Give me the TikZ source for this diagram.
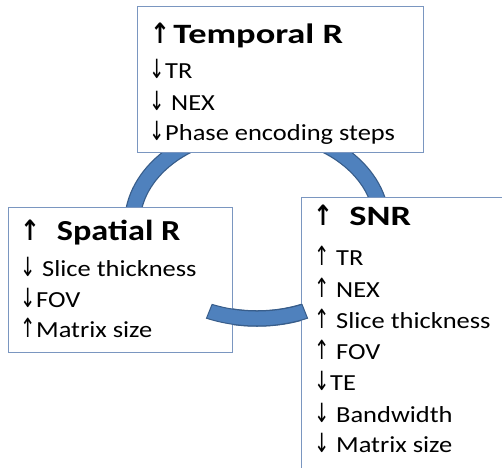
\documentclass[tikz,border=0pt]{standalone}
\usepackage{fontspec}
\setmainfont[FakeStretch=1.1]{Carlito}
\newfontfamily\bodyfont[FakeStretch=1.15]{Carlito}
\newfontfamily\headfont[FakeStretch=1.3]{Carlito Bold}
\newfontfamily\headnarrow[FakeStretch=1.18]{Carlito Bold}
\newfontfamily\arrfont{DejaVu Sans}
\newfontfamily\arrboldfont{DejaVu Sans Bold}
\definecolor{boxline}{RGB}{122,150,192}
\definecolor{ringfill}{RGB}{79,129,189}
\definecolor{ringedge}{RGB}{56,93,138}
\newcommand\uparr{\makebox[16pt][l]{\scalebox{0.8}[1.15]{\arrfont\fontsize{23}{25}\selectfont ↑}}}
\newcommand\dnarr{\makebox[16pt][l]{\scalebox{0.8}[1.15]{\arrfont\fontsize{23}{25}\selectfont ↓}}}
\newcommand\uparrb[1]{\makebox[#1][l]{\scalebox{0.85}[1]{\arrboldfont\fontsize{28}{32}\selectfont ↑}}}
\tikzset{
  panel/.style={draw=boxline, fill=white, line width=1.1pt, rectangle, inner sep=0pt, anchor=north west},
  ttl/.style={anchor=base west, inner sep=0pt, font=\headfont\fontsize{28}{32}\selectfont},
  itm/.style={anchor=base west, inner sep=0pt, font=\bodyfont\fontsize{23}{27}\selectfont},
}
\begin{document}
\begin{tikzpicture}[x=1pt,y=1pt]
\useasboundingbox (0,0) rectangle (502,467);
\clip (0,0) rectangle (502,467);
% ring behind the boxes
\coordinate (rc) at (257,243);
\draw[ringedge, line width=16.5pt] (rc) ellipse [x radius=124.75, y radius=94.5];
\draw[ringfill, line width=14pt] (rc) ellipse [x radius=124.75, y radius=94.5];
% boxes
\node[panel, minimum width=286pt, minimum height=146pt] (temporal) at (137,461) {};
\node[panel, minimum width=224pt, minimum height=145pt] (spatial) at (8,260) {};
\node[panel, minimum width=230pt, minimum height=300pt] (snr) at (301,270) {};
% bottom piece of the ring, in front
\filldraw[fill=ringfill, draw=ringedge, line width=1pt]
  (rc) ++(247.5:132 and 102)
  arc[start angle=247.5, end angle=292.5, x radius=132, y radius=102]
  -- (302.0,162.6)
  arc[start angle=292.5, end angle=247.5, x radius=117.5, y radius=87]
  -- cycle;
% temporal texts
\node[ttl] (t0) at (150,424) {\uparrb{15pt}\ Temporal R};
\node[itm] (t1) at (149,389) {\dnarr TR};
\node[itm] (t2) at (149,357) {\dnarr\ NEX};
\node[itm] (t3) at (149,327) {\dnarr Phase encoding steps};
% spatial texts
\node[ttl, font=\headnarrow\fontsize{29}{32}\selectfont] (s0) at (20,227) {\uparrb{29pt}\ Spatial R};
\node[itm] (s1) at (20,191) {\dnarr\ Slice thickness};
\node[itm] (s2) at (20,160) {\dnarr FOV};
\node[itm] (s3) at (20,130) {\uparr Matrix size};
% snr texts
\node[ttl] (n0) at (313,242) {\uparrb{28pt}\ SNR};
\node[itm] (n1) at (314,202) {\uparr\ TR};
\node[itm] (n2) at (314,170) {\uparr\ NEX};
\node[itm] (n3) at (314,139) {\uparr\ Slice thickness};
\node[itm] (n4) at (314,108) {\uparr\ FOV};
\node[itm] (n5) at (314,77) {\dnarr TE};
\node[itm] (n6) at (314,45) {\dnarr\ Bandwidth};
\node[itm] (n7) at (314,15) {\dnarr\ Matrix size};
\end{tikzpicture}
\end{document}
